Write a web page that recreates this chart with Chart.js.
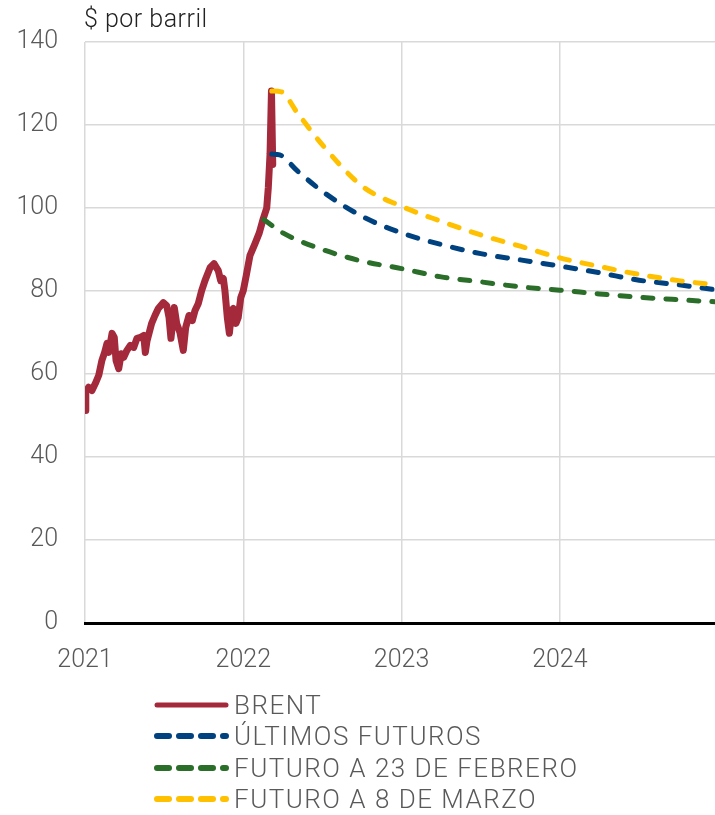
<!DOCTYPE html>
<html>
<head>
<meta charset="utf-8">
<script src="https://cdn.jsdelivr.net/npm/chart.js@4.4.1/dist/chart.umd.min.js"></script>
<style>
    body { margin: 0; background: #fff; font-family: Roboto, "Liberation Sans", Arial, sans-serif; }
    #wrap { position: relative; width: 715px; height: 815px; }
    #unit { position: absolute; left: 84px; top: 6px; font-size: 25px; color: #222; line-height: 1; font-weight: 300; letter-spacing: 0.5px; }
    #chartbox { position: absolute; left: 0; top: 0; width: 715px; height: 690px; }
    #legend { position: absolute; left: 153px; top: 689px; }
    .row { height: 31.5px; display: flex; align-items: center; font-size: 26px; color: #595959; font-weight: 300; letter-spacing: 1.5px; }
    .row svg { margin-right: 0; }
</style>
</head>
<body>
<div id="wrap">
    <div id="chartbox"><canvas id="oilchart"></canvas></div>
    <div id="unit">$ por barril</div>
    <div id="legend"></div>
</div>
<script>
// brent spot (decimal years)
const brentYears = [2021.000, 2021.005, 2021.023, 2021.044, 2021.065, 2021.087, 2021.107, 2021.124, 2021.139, 2021.150,
    2021.171, 2021.185, 2021.196, 2021.213, 2021.229, 2021.244, 2021.265, 2021.286, 2021.308, 2021.328,
    2021.349, 2021.371, 2021.381, 2021.392, 2021.421, 2021.442, 2021.463, 2021.495, 2021.516, 2021.531,
    2021.543, 2021.564, 2021.579, 2021.600, 2021.621, 2021.636, 2021.657, 2021.678, 2021.695, 2021.716,
    2021.737, 2021.758, 2021.790, 2021.815, 2021.842, 2021.857, 2021.874, 2021.884, 2021.899, 2021.912,
    2021.927, 2021.937, 2021.954, 2021.968, 2021.984, 2022.000, 2022.021, 2022.042, 2022.074, 2022.101,
    2022.126, 2022.148, 2022.158, 2022.169, 2022.178, 2022.186];
const brentPrices = [51.2, 55.6, 56.8, 56.0, 57.7, 59.7, 63.3, 65.2, 67.4, 65.2,
    69.8, 68.8, 63.3, 61.3, 64.9, 64.0, 65.7, 66.9, 66.4, 68.6,
    68.8, 69.3, 65.2, 68.0, 72.2, 74.1, 75.8, 77.2, 76.5, 73.6,
    68.6, 76.0, 72.2, 70.0, 65.7, 71.2, 74.1, 72.9, 75.3, 77.0,
    80.1, 82.5, 85.6, 86.6, 84.9, 82.5, 83.0, 80.1, 73.6, 69.8,
    75.3, 75.8, 72.2, 73.6, 78.4, 80.1, 84.2, 88.5, 91.4, 94.0,
    97.4, 100.0, 104.9, 113.0, 128.2, 110.5];

// futures curves
const lastFutYears = [2022.18, 2022.23, 2022.34, 2022.5, 2022.75, 2023.0, 2023.25, 2023.5, 2023.75, 2024.0, 2024.25, 2024.5, 2024.75, 2024.98];
const lastFutPrices = [113.0, 112.8, 109.0, 104.0, 98.0, 94.0, 91.2, 89.0, 87.5, 86.0, 84.4, 82.6, 81.5, 80.3];

const feb23Years = [2022.13, 2022.25, 2022.5, 2022.75, 2023.0, 2023.25, 2023.5, 2023.75, 2024.0, 2024.25, 2024.5, 2024.75, 2024.98];
const feb23Prices = [97.2, 94.0, 90.0, 87.2, 85.4, 83.4, 82.2, 81.0, 80.2, 79.3, 78.5, 77.9, 77.4];

const mar8Years = [2022.18, 2022.24, 2022.34, 2022.5, 2022.75, 2023.0, 2023.25, 2023.5, 2023.75, 2024.0, 2024.25, 2024.5, 2024.75, 2024.98];
const mar8Prices = [128.2, 128.0, 123.0, 115.2, 105.3, 100.4, 96.8, 93.5, 90.8, 88.0, 85.9, 84.0, 82.5, 81.5];

const yearTicks = [2021, 2022, 2023, 2024];

function pairs(xs, ys) {
    return xs.map((x, i) => ({ x: x, y: ys[i] }));
}

const series = [
    { label: 'BRENT', data: pairs(brentYears, brentPrices), color: '#a3293b', width: 7, dash: [], order: 5 },
    { label: 'ÚLTIMOS FUTUROS', data: pairs(lastFutYears, lastFutPrices), color: '#00427f', width: 5, dash: [10, 13], order: 1 },
    { label: 'FUTURO A 23 DE FEBRERO', data: pairs(feb23Years, feb23Prices), color: '#2a6e29', width: 5, dash: [10, 13], order: 2 },
    { label: 'FUTURO A 8 DE MARZO', data: pairs(mar8Years, mar8Prices), color: '#ffc000', width: 5, dash: [10, 13], order: 0 }
];

const datasets = series.map(s => ({
    label: s.label,
    data: s.data,
    borderColor: s.color,
    backgroundColor: s.color,
    borderWidth: s.width,
    borderDash: s.dash,
    borderCapStyle: 'round',
    borderJoinStyle: 'round',
    pointRadius: 0,
    cubicInterpolationMode: s.dash.length ? 'monotone' : 'default',
    order: s.order
}));

const tickFont = { family: 'Roboto, "Liberation Sans", Arial, sans-serif', size: 25, weight: '300' };

const config = {
    type: 'line',
    data: { datasets: datasets },
    options: {
        responsive: true,
        maintainAspectRatio: false,
        animation: false,
        layout: { padding: { top: 41, right: 0, left: 0, bottom: 0 } },
        plugins: {
            legend: { display: false },
            tooltip: { enabled: false }
        },
        scales: {
            x: {
                type: 'linear',
                min: 2021,
                max: 2024.98,
                afterBuildTicks: function (scale) {
                    scale.ticks = yearTicks.map(v => ({ value: v }));
                },
                afterFit: function (scale) { scale.height = 67; },
                grid: { color: '#d9d9d9', lineWidth: 1.5, drawTicks: false },
                border: { color: '#000', width: 3 },
                ticks: {
                    color: '#595959',
                    font: tickFont,
                    padding: 23,
                    maxRotation: 0,
                    callback: v => String(v)
                }
            },
            y: {
                min: 0,
                max: 140,
                afterFit: function (scale) { scale.width = 85; },
                grid: { color: '#d9d9d9', lineWidth: 1.5, drawTicks: false },
                border: { display: false },
                ticks: {
                    stepSize: 20,
                    color: '#595959',
                    font: tickFont,
                    padding: 27
                }
            }
        }
    }
};

new Chart(document.getElementById('oilchart'), config);

// legend rows
let legendHtml = '';
series.forEach(function (s) {
    let dash = s.dash.length ? 'stroke-dasharray="12 10"' : '';
    legendHtml += `<div class="row"><svg width="81" height="10"><line x1="4" y1="5" x2="73" y2="5" stroke="${s.color}" stroke-width="${s.dash.length ? 6 : 5}" stroke-linecap="round" ${dash}/></svg>${s.label}</div>`;
});
document.getElementById('legend').innerHTML = legendHtml;
</script>
</body>
</html>
